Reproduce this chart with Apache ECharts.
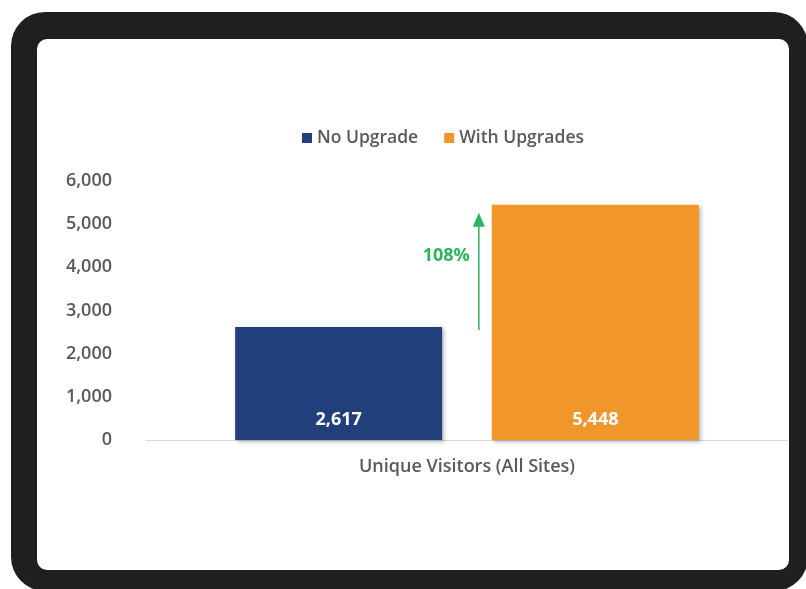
<!DOCTYPE html>
<html>
<head>
<meta charset="utf-8">
<script src="https://cdn.jsdelivr.net/npm/echarts@6/dist/echarts.min.js"></script>
<style>
  html, body { margin: 0; padding: 0; width: 806px; height: 589px; overflow: hidden; background: #ffffff; }
  #frame { position: absolute; left: 11px; top: 12px; width: 797px; height: 579px; background: #1f1f1f; border-radius: 34px; }
  #screen { position: absolute; left: 37px; top: 39px; width: 752px; height: 531px; background: #ffffff; border-radius: 10px; }
  #chart { position: absolute; left: 0; top: 0; width: 806px; height: 589px; }
</style>
</head>
<body>
<div id="frame"></div>
<div id="screen"></div>
<div id="chart"></div>
<script>
const categories = ['Unique Visitors (All Sites)'];
const seriesNames = ['No Upgrade', 'With Upgrades'];
const noUpgrade = [2617];
const withUpgrades = [5448];
const yMin = 0, yMax = 6000, yInterval = 1000;
const changeLabel = '108%';

const textColor = '#595959';
const font = '"Open Sans", "Liberation Sans", sans-serif';
const chart = echarts.init(document.getElementById('chart'), null, { renderer: 'canvas' });

const barShadow = { shadowBlur: 4, shadowColor: 'rgba(0,0,0,0.28)', shadowOffsetX: 2, shadowOffsetY: 2 };

chart.setOption({
  backgroundColor: 'transparent',
  animation: false,
  textStyle: { fontFamily: font },
  legend: {
    data: seriesNames,
    left: 297,
    top: 124,
    icon: 'rect',
    itemWidth: 10,
    itemHeight: 10,
    itemGap: 26,
    textStyle: { color: textColor, fontSize: 17.5, fontWeight: 600, fontFamily: font }
  },
  grid: { left: 146, right: 18, top: 181, bottom: 149, containLabel: false },
  xAxis: {
    type: 'category',
    data: categories,
    axisLine: { show: true, lineStyle: { color: '#d9d9d9', width: 1 } },
    axisTick: { show: false },
    axisLabel: { color: textColor, fontSize: 18, fontWeight: 600, margin: 18, fontFamily: font }
  },
  yAxis: {
    type: 'value',
    min: yMin, max: yMax, interval: yInterval,
    splitLine: { show: false },
    axisLine: { show: false },
    axisTick: { show: false },
    axisLabel: {
      color: textColor, fontSize: 18, fontWeight: 600, margin: 34, fontFamily: font,
      formatter: v => v.toLocaleString('en-US')
    }
  },
  series: [
    {
      name: seriesNames[0], type: 'bar', data: noUpgrade,
      barWidth: 207, barGap: '24%',
      itemStyle: Object.assign({ color: '#203f7b' }, barShadow),
      label: {
        show: true, position: 'insideBottom', distance: 11,
        color: '#ffffff', fontSize: 18, fontWeight: 700, fontFamily: font,
        formatter: p => p.value.toLocaleString('en-US')
      }
    },
    {
      name: seriesNames[1], type: 'bar', data: withUpgrades,
      barWidth: 207, barGap: '24%',
      itemStyle: Object.assign({ color: '#f0962a' }, barShadow),
      label: {
        show: true, position: 'insideBottom', distance: 11,
        color: '#ffffff', fontSize: 18, fontWeight: 700, fontFamily: font,
        formatter: p => p.value.toLocaleString('en-US')
      }
    }
  ]
});

// Arrow annotation between the bars, positioned from library layout
const orangeLayout = chart.getModel().getSeriesByIndex(1).getData().getItemLayout(0);
const arrowX = orangeLayout.x - 13;
const yBottom = chart.convertToPixel({ yAxisIndex: 0 }, noUpgrade[0]) + 3;
const yTop = chart.convertToPixel({ yAxisIndex: 0 }, withUpgrades[0]) + 8;
const green = '#2bb55c';
chart.setOption({
  graphic: [
    { type: 'line', shape: { x1: arrowX, y1: yBottom, x2: arrowX, y2: yTop + 10 }, style: { stroke: green, lineWidth: 1.5 }, z: 10 },
    { type: 'polygon', shape: { points: [[arrowX, yTop], [arrowX - 6, yTop + 14], [arrowX + 6, yTop + 14]] }, style: { fill: green }, z: 10 },
    { type: 'text', x: arrowX - 9, y: (yTop + yBottom) / 2 - 16,
      style: { text: changeLabel, fill: green, font: '700 18px ' + font, align: 'right', verticalAlign: 'middle' }, z: 10 }
  ]
});
</script>
</body>
</html>
